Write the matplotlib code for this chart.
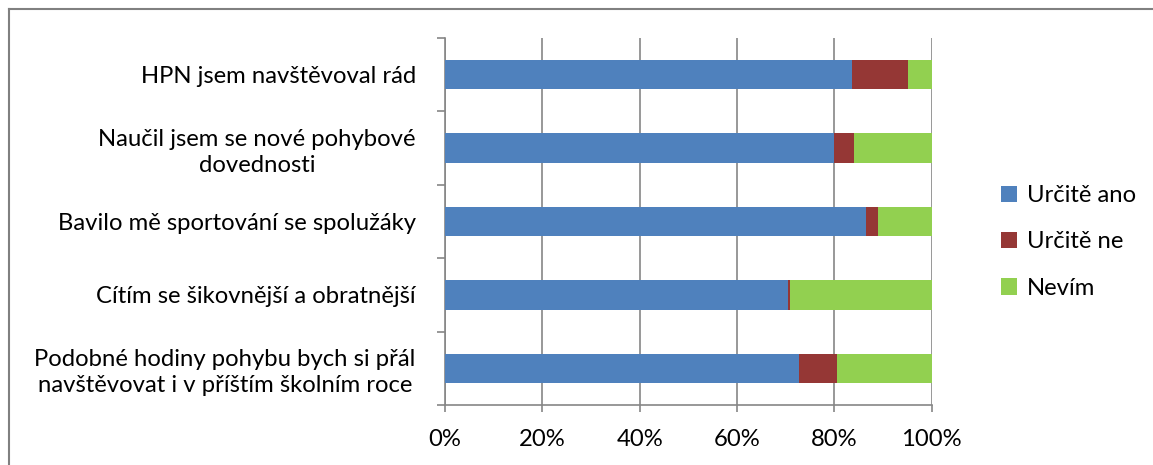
import matplotlib
matplotlib.use("Agg")
import matplotlib.pyplot as plt
from matplotlib.lines import Line2D
from matplotlib.patches import Patch
import numpy as np

categories = [
    "HPN jsem navštěvoval rád",
    "Naučil jsem se nové pohybové\ndovednosti",
    "Bavilo mě sportování se spolužáky",
    "Cítím se šikovnější a obratnější",
    "Podobné hodiny pohybu bych si přál\nnavštěvovat i v příštím školním roce",
]
series_names = ["Určitě ano", "Určitě ne", "Nevím"]
urcite_ano = [83.6, 79.9, 86.6, 70.4, 72.8]
urcite_ne = [11.5, 4.2, 2.3, 0.5, 7.7]
nevim = [4.9, 15.9, 11.1, 29.1, 19.5]
colors = ["#4F81BD", "#953735", "#92D050"]
xticks = [0, 20, 40, 60, 80, 100]

plt.rcParams['font.family'] = ['Lato', 'DejaVu Sans']
FS = 17.2

W, H = 1153, 465
fig = plt.figure(figsize=(W / 100, H / 100), dpi=100)
ax = fig.add_axes([445 / W, (H - 405) / H, (931.7 - 445) / W, (405 - 38) / H])

y = np.arange(len(categories))
left = np.zeros(len(categories))
for vals, name, c in zip([urcite_ano, urcite_ne, nevim], series_names, colors):
    ax.barh(y, vals, left=left, height=0.4, color=c, label=name, zorder=3)
    left = left + np.array(vals)

ax.set_xlim(0, 100)
ax.set_ylim(len(categories) - 0.5, -0.5)
grid_c = "#868686"
ax.set_xticks(xticks)
ax.set_xticklabels([f"{v}%" for v in xticks], fontsize=FS)
ax.xaxis.grid(True, color=grid_c, linewidth=1.2, zorder=0)
ax.set_yticks(y)
ax.set_yticklabels(categories, fontsize=FS)
for lab in ax.get_yticklabels():
    lab.set_multialignment('center')
    lab.set_linespacing(1.3)
ax.set_yticks(np.arange(-0.5, len(categories)), minor=True)
ax.tick_params(axis='y', which='major', length=0, pad=21)
ax.tick_params(axis='y', which='minor', length=6, color=grid_c, width=1.2, direction='out')
ax.tick_params(axis='x', length=5, color=grid_c, width=1.2, pad=12)
for s in ['top', 'right']:
    ax.spines[s].set_visible(False)
for s in ['left', 'bottom']:
    ax.spines[s].set_color(grid_c)
    ax.spines[s].set_linewidth(1.2)

handles = [Patch(facecolor=c, edgecolor='none') for c in colors]
fig.legend(handles, series_names, loc='center left',
           bbox_to_anchor=(979 / W, (H - 242) / H), frameon=False,
           fontsize=FS, handlelength=0.7, handleheight=0.7,
           handletextpad=0.4, labelspacing=1.05)

# chart border (top and left visible)
fig.add_artist(Line2D([8.5 / W, 8.5 / W], [0, 1 - 9.5 / H], transform=fig.transFigure,
                      color="#808080", linewidth=1.5))
fig.add_artist(Line2D([8.5 / W, 1], [1 - 9.5 / H, 1 - 9.5 / H], transform=fig.transFigure,
                      color="#808080", linewidth=1.5))

fig.savefig("out.png", dpi=100, facecolor="white")
